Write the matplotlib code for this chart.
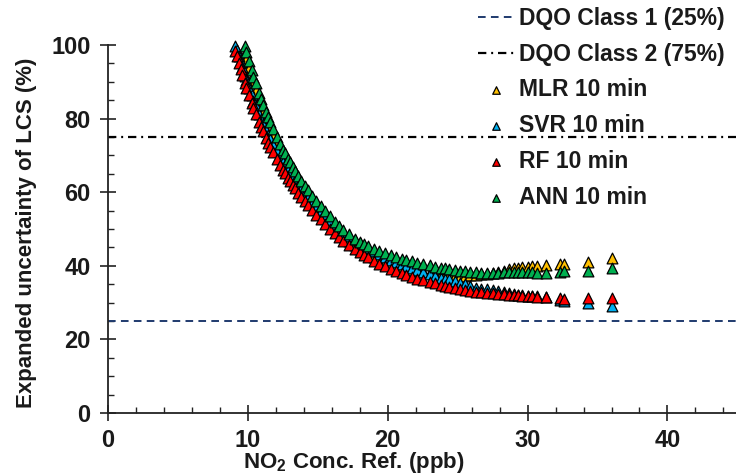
import numpy as np
import matplotlib
matplotlib.use("Agg")
import matplotlib.pyplot as plt

plt.rcParams['font.family'] = ['Liberation Sans', 'DejaVu Sans']
plt.rcParams['font.weight'] = 'bold'
plt.rcParams['mathtext.fontset'] = 'custom'
plt.rcParams['mathtext.bf'] = 'Liberation Sans:bold'
plt.rcParams['mathtext.rm'] = 'Liberation Sans:bold'
plt.rcParams['lines.scale_dashes'] = False

nan = np.nan

# reference NO2 concentration (ppb), shared by all models
no2_ref = [9.07, 9.2, 9.36, 9.48, 9.6, 9.79, 9.9, 10.07, 10.26, 10.4,
           10.55, 10.79, 10.95, 11.1, 11.3, 11.45, 11.6, 11.8, 12.05, 12.3,
           12.5, 12.64, 12.85, 13.0, 13.2, 13.36, 13.6, 13.83, 14.05, 14.3,
           14.6, 14.9, 15.2, 15.5, 15.86, 16.2, 16.5, 16.8, 17.2, 17.64,
           18.0, 18.3, 18.6, 19.0, 19.4, 19.8, 20.2, 20.6, 21.0, 21.3,
           21.7, 22.1, 22.5, 23.0, 23.4, 23.8, 24.1, 24.4, 24.8, 25.2,
           25.5, 25.9, 26.3, 26.7, 27.1, 27.5, 27.9, 28.3, 28.7, 29.0,
           29.3, 29.6, 30.0, 30.3, 30.7, 31.3, 32.3, 32.6, 34.3, 36.0]

# expanded uncertainty (%) per model
u_mlr = [nan, nan, nan, nan, nan, 97.8, 96.2, 93.8, 91.3, 89.6,
         87.8, 85.2, 83.5, 82.0, 80.0, 78.6, 77.2, 75.4, 73.3, 71.3,
         69.8, 68.8, 67.3, 66.3, 65.0, 64.0, 62.5, 61.2, 60.0, 58.7,
         57.2, 55.7, 54.4, 53.1, 51.6, 50.2, 49.1, 48.0, 46.8, 45.6,
         44.7, 44.0, 43.3, 42.5, 41.8, 41.1, 40.5, 39.9, 39.4, 39.1,
         38.8, 38.5, 38.3, 38.0, 37.8, 37.6, 37.5, 37.4, 37.3, 37.3,
         37.3, 37.4, 37.5, 37.7, 37.9, 38.1, 38.4, 38.7, 39.0, 39.3,
         39.5, 39.7, 39.8, 39.9, 40.0, 40.1, 40.4, 40.6, 41.1, 42.1]

u_svr = [99.8, 98.6, 96.9, 95.4, 93.9, 91.7, 90.4, 88.4, 86.3, 84.9,
         83.4, 81.3, 79.9, 78.6, 76.9, 75.6, 74.4, 72.9, 71.1, 69.4,
         68.1, 67.3, 66.0, 65.2, 64.1, 63.2, 62.0, 60.9, 59.8, 58.6,
         57.2, 55.9, 54.8, 53.7, 52.3, 51.1, 50.1, 49.2, 48.1, 47.0,
         46.1, 45.4, 44.8, 43.9, 43.1, 42.4, 41.7, 41.1, 40.5, 40.0,
         39.5, 38.9, 38.3, 37.7, 37.2, 36.8, 36.5, 36.3, 35.9, 35.4,
         35.0, 34.5, 34.1, 33.8, 33.6, 33.4, 33.1, 32.9, 32.6, 32.4,
         32.2, 32.1, 31.9, 31.8, 31.7, 31.6, 30.6, 30.4, 29.8, 29.0]

u_rf = [98.5, 97.0, 95.0, 93.4, 91.8, 89.6, 88.3, 86.3, 84.2, 82.8,
        81.3, 79.2, 77.8, 76.5, 74.8, 73.5, 72.3, 70.8, 69.0, 67.3,
        66.0, 65.2, 63.9, 63.1, 62.0, 61.1, 59.9, 58.8, 57.7, 56.5,
        55.1, 53.8, 52.6, 51.4, 50.0, 48.8, 47.8, 46.8, 45.7, 44.6,
        43.7, 43.0, 42.3, 41.4, 40.6, 39.9, 39.2, 38.6, 38.0, 37.5,
        37.0, 36.5, 36.1, 35.6, 35.2, 34.8, 34.5, 34.2, 33.9, 33.6,
        33.4, 33.2, 33.0, 32.8, 32.6, 32.5, 32.4, 32.3, 32.2, 32.1,
        32.0, 31.9, 31.8, 31.7, 31.6, 31.5, 31.2, 31.1, 31.2, 31.3]

u_ann = [nan, nan, nan, nan, nan, 99.6, 98.0, 95.6, 93.1, 91.4,
         89.6, 87.0, 85.3, 83.8, 81.8, 80.4, 79.0, 77.2, 75.1, 73.1,
         71.6, 70.6, 69.1, 68.1, 66.8, 65.8, 64.3, 63.0, 61.8, 60.5,
         59.0, 57.5, 56.2, 54.9, 53.4, 52.0, 50.9, 49.8, 48.6, 47.4,
         46.6, 45.9, 45.3, 44.6, 44.0, 43.4, 42.9, 42.4, 41.9, 41.6,
         41.2, 40.8, 40.5, 40.1, 39.8, 39.5, 39.3, 39.1, 38.9, 38.7,
         38.5, 38.4, 38.2, 38.1, 38.1, 38.0, 38.1, 38.2, 38.3, 38.4,
         38.3, 38.3, 38.2, 38.2, 38.1, 38.1, 38.3, 38.5, 38.7, 39.4]

models = ['MLR 10 min', 'SVR 10 min', 'RF 10 min', 'ANN 10 min']
colors = ['#FFC000', '#00B0F0', '#FF0000', '#00B050']
dqo_class1 = 25
dqo_class2 = 75

txt = '#1a1a1a'

fig = plt.figure(figsize=(7.36, 4.76), dpi=100)
ax = fig.add_axes([108 / 736, 63 / 476, 628 / 736, 368 / 476])

ax.axhline(dqo_class1, color='#1F3A6E', lw=1.4, dashes=(5.5, 3.8),
           label='DQO Class 1 (25%)')
ax.axhline(dqo_class2, color='black', lw=1.6, dashes=(6, 3.5, 1.4, 3.5),
           label='DQO Class 2 (75%)')

for y, c, name in zip([u_mlr, u_svr, u_rf, u_ann], colors, models):
    ax.scatter(no2_ref, y, marker='^', s=60, c=c, edgecolors='black',
               linewidths=0.9, label=name, clip_on=False, zorder=3)

ax.set_xlim(0, 44.9)
ax.set_ylim(0, 100)
ax.set_xticks(np.arange(0, 41, 10))
ax.set_xticks(np.arange(0, 45, 2), minor=True)
ax.set_yticks(np.arange(0, 101, 20))
ax.set_yticks(np.arange(0, 101, 5), minor=True)

for s in ['top', 'right']:
    ax.spines[s].set_visible(False)
for s in ['left', 'bottom']:
    ax.spines[s].set_linewidth(1.3)
    ax.spines[s].set_color('#222222')

ax.tick_params(which='major', direction='inout', length=11, width=1.2,
               labelsize=17, colors='#222222', labelcolor=txt)
ax.tick_params(axis='y', which='major', pad=7)
ax.tick_params(axis='x', which='major', pad=6)
ax.tick_params(which='minor', direction='in', length=4.5, width=1.0,
               colors='#222222')
for lab in ax.get_xticklabels() + ax.get_yticklabels():
    lab.set_fontweight('bold')

ax.set_ylabel('Expanded uncertainty of LCS (%)', fontsize=16,
              fontweight='bold', color=txt)
ax.yaxis.set_label_coords(-0.113, 0.49)
ax.set_xlabel(r'NO$_\mathbf{2}$ Conc. Ref. (ppb)', fontsize=16,
              fontweight='bold', color=txt)
ax.xaxis.set_label_coords(0.392, -0.1)

leg = ax.legend(loc='upper right', bbox_to_anchor=(728 / 736, 0.993),
                bbox_transform=fig.transFigure, frameon=False,
                prop={'weight': 'bold', 'size': 16.5}, handlelength=1.6,
                handletextpad=0.2, labelspacing=0.56, markerscale=0.7,
                borderpad=0.05, borderaxespad=0.1)
for t in leg.get_texts():
    t.set_color(txt)

fig.savefig('out.png', dpi=100)
